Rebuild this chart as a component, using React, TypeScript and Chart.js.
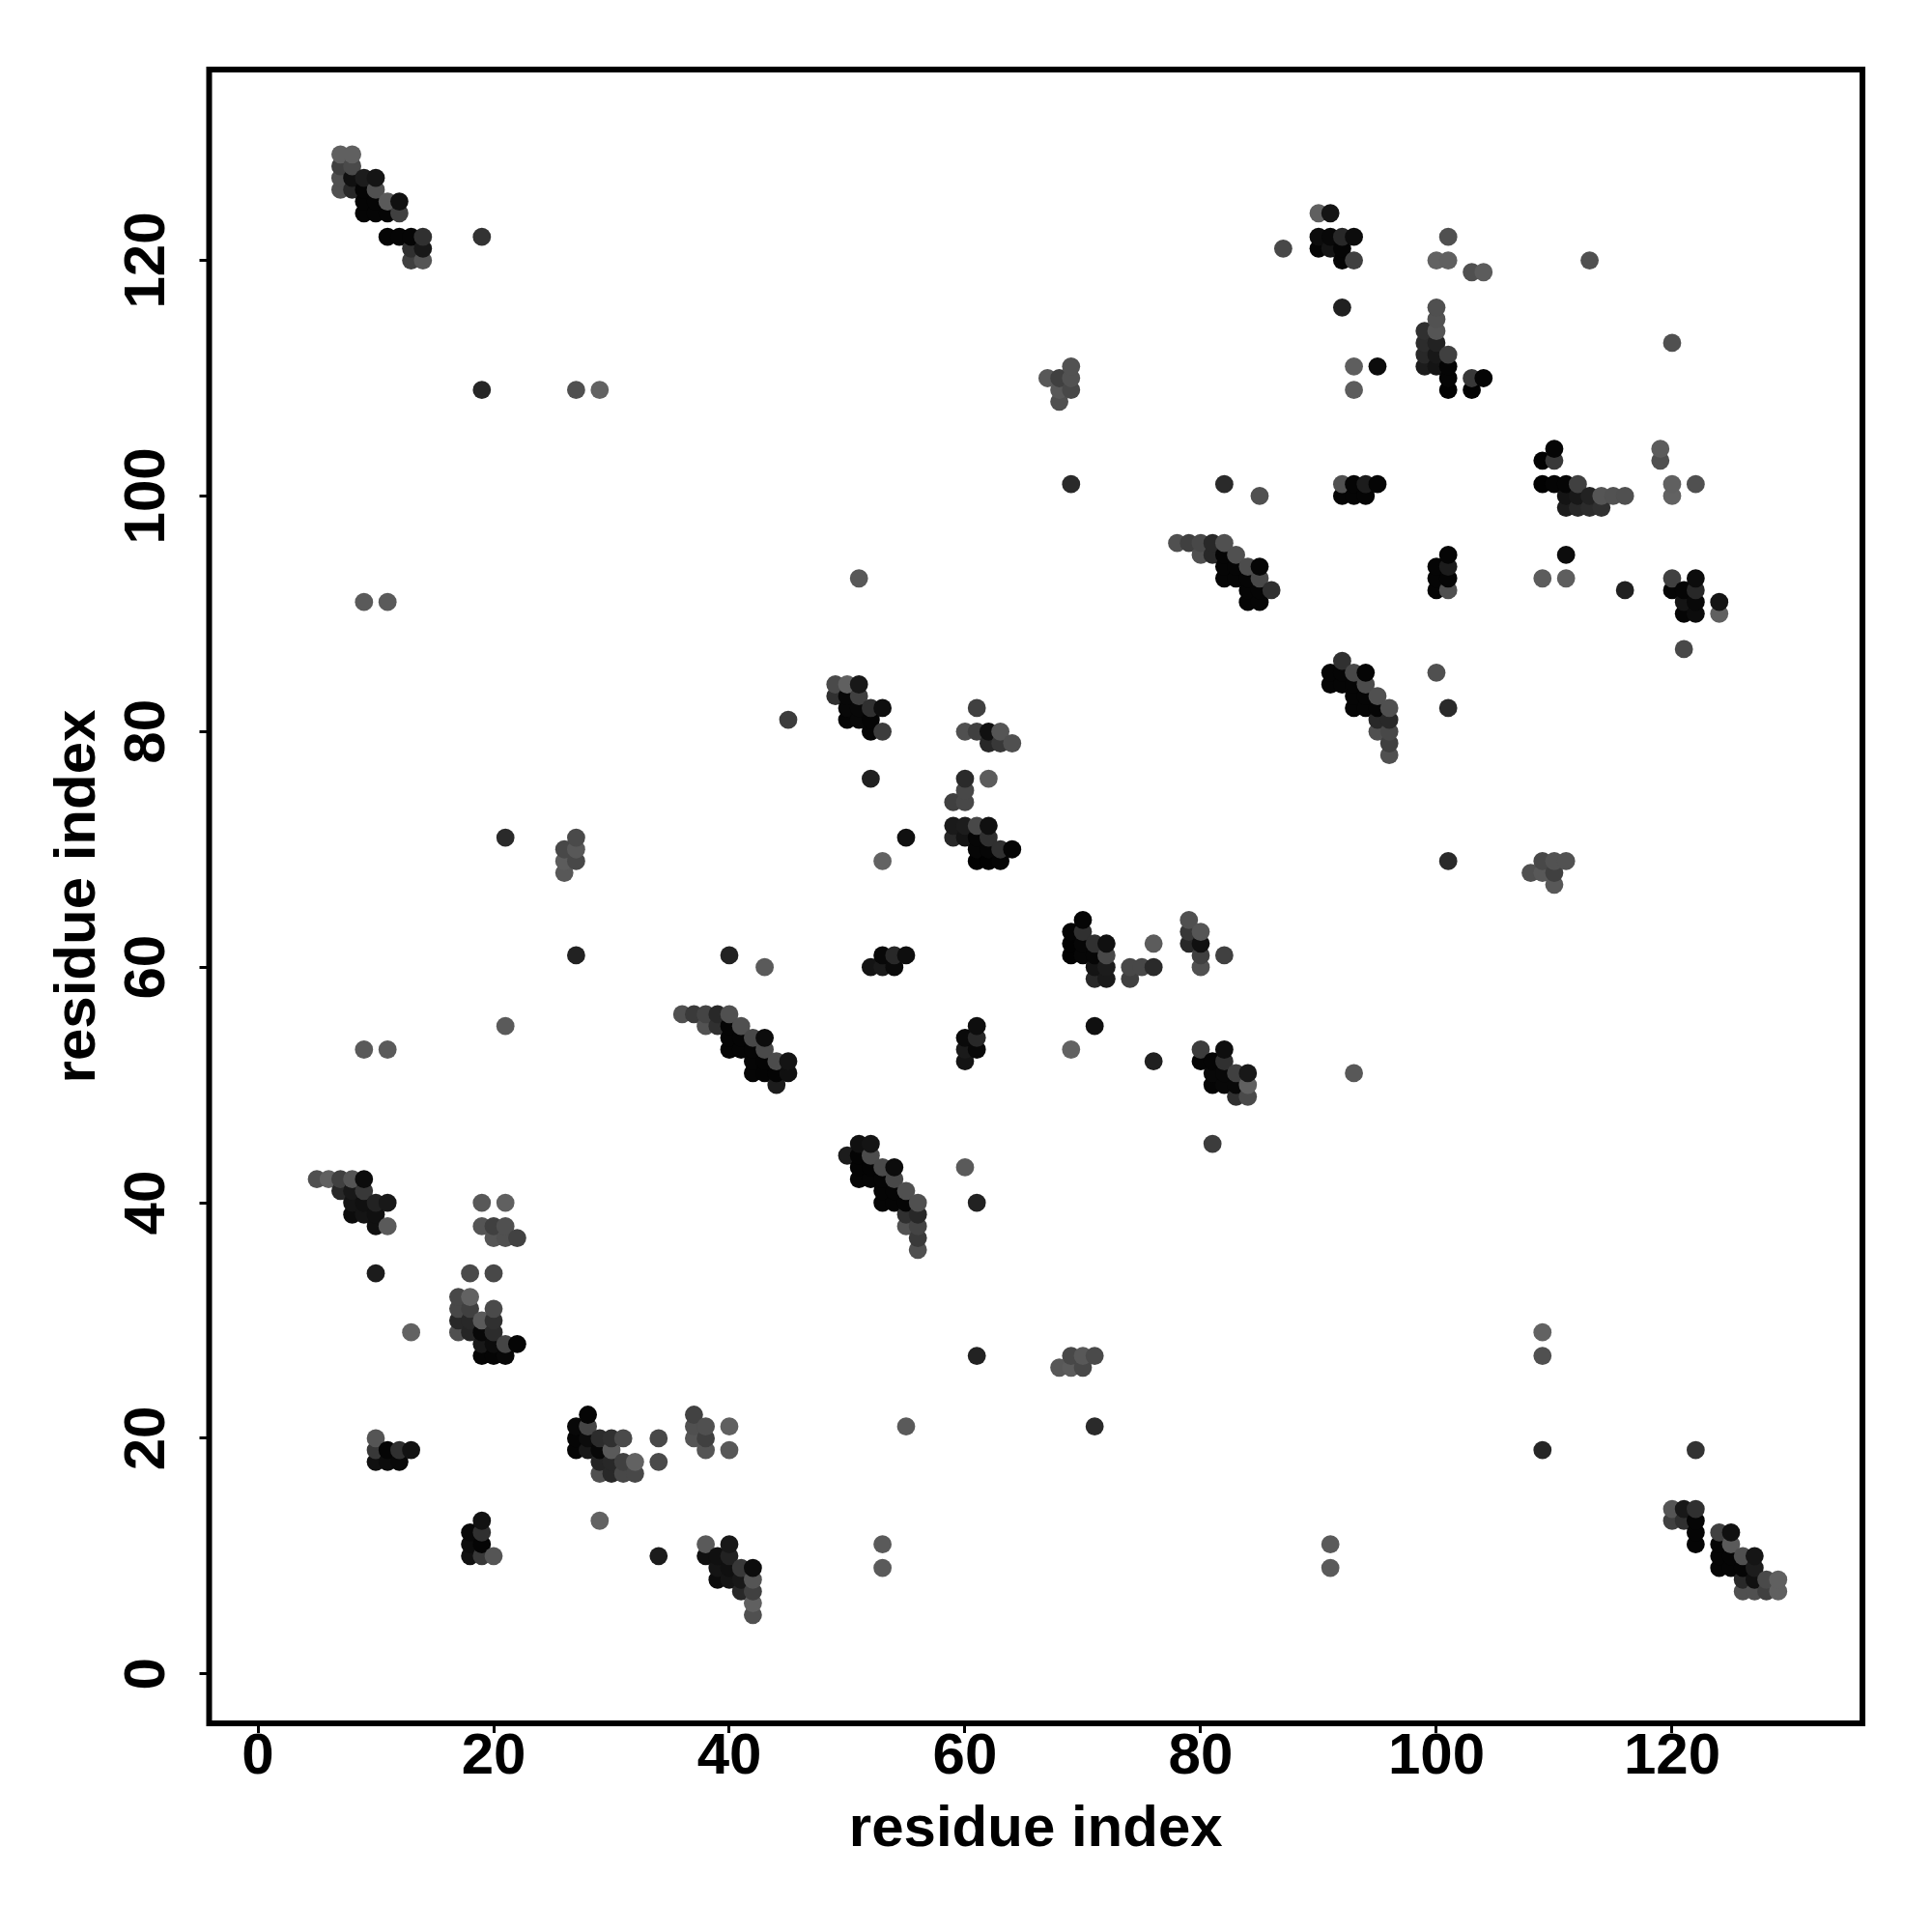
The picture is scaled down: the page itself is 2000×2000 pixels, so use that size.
import { useEffect, useRef } from "react";
import { Chart, registerables } from "chart.js";

Chart.register(...registerables);

type Contact = [number, number, number];

// Each contact is [residue i, residue j, darkness as a grey value]; the map is symmetric.
const contactsA: Contact[] = [
  [7,129,0x60],[8,129,0x60],[7,128,0x40],[8,128,0x4a],[7,127,0x50],[8,127,0x10],[9,127,0x1c],[10,127,0x15],
  [7,126,0x50],[8,126,0x28],[9,126,0x05],[10,126,0x50],[9,125,0x05],[10,125,0x05],[11,125,0x5a],[12,125,0x10],
  [9,124,0x05],[10,124,0x05],[11,124,0x05],[12,124,0x40],[11,122,0x05],[12,122,0x05],[13,122,0x05],[14,122,0x30],
  [13,121,0x30],[14,121,0x18],[13,120,0x40],[14,120,0x55],[19,122,0x33],[19,109,0x26],[27,109,0x50],[29,109,0x62],
];
const contactsB: Contact[] = [
  [9,91,0x5a],[11,91,0x5a],[9,53,0x5a],[11,53,0x5a],[53,11,0x62],[53,9,0x5c],
  [5,42,0x50],[6,42,0x60],[7,42,0x40],[8,42,0x55],[9,42,0x0c],[7,41,0x28],[8,41,0x18],[9,41,0x38],
  [8,40,0x14],[9,40,0x10],[10,40,0x22],[11,40,0x18],[8,39,0x0c],[9,39,0x14],[10,39,0x10],[10,38,0x10],[11,38,0x5a],
  [10,34,0x1c],[13,29,0x62],
];
const contactsC: Contact[] = [
  [19,40,0x58],[21,40,0x60],[19,38,0x55],[20,38,0x40],[21,38,0x50],[20,37,0x55],[21,37,0x50],[22,37,0x42],
  [18,34,0x4a],[20,34,0x48],[17,32,0x48],[18,32,0x62],[17,31,0x48],[18,31,0x40],[20,31,0x4a],
  [17,30,0x28],[18,30,0x28],[19,30,0x5a],[20,30,0x30],[17,29,0x50],[18,29,0x25],[19,29,0x08],[20,29,0x2c],
  [19,28,0x18],[20,28,0x0c],[21,28,0x45],[22,28,0x05],[19,27,0x05],[20,27,0x05],[21,27,0x08],
];
const contactsD: Contact[] = [
  [10,20,0x55],[10,19,0x38],[10,18,0x10],[11,19,0x05],[11,18,0x0c],[12,19,0x30],[12,18,0x08],[13,19,0x12],
  [28,22,0x08],[27,21,0x08],[28,21,0x30],[27,20,0x0c],[28,20,0x10],[29,20,0x2a],[30,20,0x28],[31,20,0x40],
  [27,19,0x05],[28,19,0x10],[29,19,0x05],[30,19,0x4a],[29,18,0x20],[30,18,0x1c],[31,18,0x40],[32,18,0x60],
  [29,17,0x40],[30,17,0x22],[31,17,0x40],[32,17,0x40],[34,20,0x48],[34,18,0x4a],
  [37,22,0x40],[37,21,0x55],[38,21,0x48],[37,20,0x50],[38,20,0x3c],[38,19,0x50],[40,21,0x60],[40,19,0x55],
];
const contactsE: Contact[] = [
  [19,13,0x18],[18,12,0x05],[19,12,0x2c],[18,11,0x10],[19,11,0x05],[18,10,0x0c],[19,10,0x40],[20,10,0x55],
  [29,13,0x62],[34,10,0x1c],[38,11,0x50],[40,11,0x1c],[38,10,0x0c],[39,10,0x08],[40,10,0x28],
  [39,9,0x14],[40,9,0x08],[41,9,0x40],[42,9,0x0c],[39,8,0x05],[40,8,0x08],[41,8,0x08],[42,8,0x50],
  [41,7,0x20],[42,7,0x38],[42,6,0x58],[42,5,0x50],[91,11,0x62],[91,9,0x5c],
];
const contactsF: Contact[] = [
  [21,71,0x2a],[21,55,0x5a],[26,68,0x58],[26,69,0x5c],[26,70,0x48],[27,69,0x48],[27,70,0x58],[27,71,0x4a],
  [27,61,0x22],[40,61,0x22],[43,60,0x5a],[45,81,0x3c],[51,93,0x58],[81,45,0x2c],[93,51,0x58],
];
const contactsG: Contact[] = [
  [51,45,0x10],[52,45,0x14],[50,44,0x1c],[51,44,0x04],[52,44,0x4c],[51,43,0x04],[52,43,0x04],[53,43,0x4a],[54,43,0x0c],
  [51,42,0x05],[52,42,0x05],[53,42,0x05],[54,42,0x48],[53,41,0x05],[54,41,0x05],[55,41,0x50],
  [53,40,0x05],[54,40,0x05],[55,40,0x05],[56,40,0x50],[55,39,0x30],[56,39,0x28],[55,38,0x52],[56,38,0x44],[56,37,0x3a],[56,36,0x50],
];
const contactsH: Contact[] = [
  [36,56,0x55],[37,56,0x40],[38,56,0x48],[39,56,0x2a],[40,56,0x50],[38,55,0x55],[39,55,0x30],[40,55,0x05],[41,55,0x52],
  [40,54,0x05],[41,54,0x05],[42,54,0x4c],[43,54,0x0a],[40,53,0x05],[41,53,0x05],[42,53,0x05],[43,53,0x48],
  [42,52,0x05],[43,52,0x05],[44,52,0x55],[45,52,0x0c],[42,51,0x05],[43,51,0x05],[44,51,0x05],[45,51,0x18],[44,50,0x26],
];
const contactsI: Contact[] = [
  [49,84,0x4a],[50,84,0x60],[51,84,0x18],[49,83,0x30],[50,83,0x08],[51,83,0x40],[50,82,0x08],[51,82,0x08],[52,82,0x30],[53,82,0x0e],
  [50,81,0x05],[51,81,0x08],[52,81,0x05],[52,80,0x05],[53,80,0x3c],[52,76,0x20],[55,71,0x10],[53,69,0x62],
  [53,61,0x08],[54,61,0x28],[55,61,0x0e],[52,60,0x14],[53,60,0x1a],[54,60,0x0a],
];
const contactsJ: Contact[] = [
  [61,82,0x40],[60,80,0x50],[61,80,0x40],[62,80,0x10],[63,80,0x55],[62,79,0x28],[63,79,0x38],[64,79,0x50],
  [60,76,0x2a],[62,76,0x5c],[60,75,0x48],[59,74,0x40],[60,74,0x48],[59,72,0x1a],[60,72,0x1c],[61,72,0x48],[62,72,0x10],
  [59,71,0x28],[60,71,0x14],[61,71,0x06],[62,71,0x30],[61,70,0x06],[62,70,0x06],[63,70,0x30],[64,70,0x05],
  [61,69,0x02],[62,69,0x02],[63,69,0x04],
];
const contactsK: Contact[] = [
  [70,64,0x0a],[69,63,0x05],[70,63,0x2c],[69,62,0x05],[70,62,0x05],[71,62,0x30],[72,62,0x10],[69,61,0x05],[70,61,0x05],[71,61,0x05],[72,61,0x40],
  [71,60,0x18],[72,60,0x20],[71,59,0x30],[72,59,0x1c],[76,62,0x58],[74,60,0x4c],[75,60,0x50],[76,60,0x26],[74,59,0x30],
  [79,64,0x4a],[79,63,0x38],[80,63,0x58],[79,62,0x2c],[80,62,0x12],[80,61,0x38],[82,61,0x38],[80,60,0x50],
  [61,55,0x10],[60,54,0x08],[61,54,0x28],[60,53,0x08],[61,53,0x0c],[60,52,0x14],[71,55,0x14],[69,53,0x62],[76,52,0x20],
  [80,53,0x3c],[82,53,0x12],[80,52,0x08],[81,52,0x02],[82,52,0x30],[81,51,0x08],[82,51,0x08],[83,51,0x3c],[84,51,0x14],
  [81,50,0x05],[82,50,0x08],[83,50,0x08],[84,50,0x5c],[83,49,0x28],[84,49,0x50],
];
const contactsL: Contact[] = [
  [69,111,0x52],[69,110,0x52],[69,109,0x48],[68,110,0x40],[68,109,0x58],[68,108,0x50],[67,110,0x58],[69,101,0x2a],[82,101,0x2a],[85,100,0x50],
  [78,96,0x50],[79,96,0x40],[80,96,0x48],[81,96,0x28],[82,96,0x50],[80,95,0x50],[81,95,0x28],[82,95,0x05],[83,95,0x50],
  [82,94,0x05],[83,94,0x05],[84,94,0x4c],[85,94,0x05],[82,93,0x05],[83,93,0x05],[84,93,0x05],[85,93,0x48],
  [84,92,0x05],[85,92,0x05],[86,92,0x30],[84,91,0x05],[85,91,0x05],
];
const contactsM: Contact[] = [
  [90,124,0x60],[91,124,0x14],[90,122,0x0c],[91,122,0x08],[92,122,0x28],[93,122,0x0c],[90,121,0x05],[91,121,0x14],[92,121,0x05],
  [92,120,0x05],[93,120,0x40],[87,121,0x48],[92,116,0x20],[93,111,0x5e],[95,111,0x0c],[93,109,0x5c],
  [92,101,0x50],[93,101,0x05],[94,101,0x1c],[95,101,0x05],[92,100,0x05],[93,100,0x05],[94,100,0x05],
];
const contactsN: Contact[] = [
  [101,122,0x50],[100,120,0x62],[101,120,0x60],[103,119,0x50],[104,119,0x5c],[113,120,0x50],[100,116,0x50],[100,115,0x52],
  [99,114,0x30],[100,114,0x55],[99,113,0x2c],[100,113,0x22],[99,112,0x28],[100,112,0x18],[101,112,0x40],
  [99,111,0x1c],[100,111,0x14],[101,111,0x05],[101,110,0x05],[103,110,0x38],[104,110,0x05],[101,109,0x02],[103,109,0x02],
];
const contactsO: Contact[] = [
  [110,104,0x0c],[109,103,0x05],[110,103,0x2a],[109,101,0x05],[110,101,0x08],[111,101,0x08],[112,101,0x40],
  [111,100,0x14],[112,100,0x18],[113,100,0x20],[114,100,0x45],[115,100,0x4a],[116,100,0x40],
  [111,99,0x22],[112,99,0x28],[113,99,0x2c],[114,99,0x2a],[119,104,0x60],[119,103,0x50],[120,101,0x5e],[122,101,0x4a],[120,100,0x5e],
  [111,95,0x10],[109,93,0x62],[111,93,0x60],[116,92,0x20],[120,93,0x40],[122,93,0x14],[120,92,0x10],[121,92,0x05],[122,92,0x28],
  [121,91,0x08],[122,91,0x08],[124,91,0x10],[121,90,0x05],[122,90,0x08],[124,90,0x62],[121,87,0x40],[120,113,0x58],
];
const contactsP: Contact[] = [
  [92,86,0x30],[91,85,0x05],[92,85,0x05],[93,85,0x48],[94,85,0x02],[91,84,0x05],[92,84,0x05],[93,84,0x05],[94,84,0x50],
  [93,83,0x05],[94,83,0x05],[95,83,0x50],[93,82,0x05],[94,82,0x05],[95,82,0x05],[96,82,0x50],[95,81,0x28],[96,81,0x20],
  [95,80,0x50],[96,80,0x50],[96,79,0x40],[96,78,0x52],[100,85,0x58],[101,82,0x2a],[101,69,0x2a],
  [101,95,0x0a],[100,94,0x05],[101,94,0x1c],[100,93,0x08],[101,93,0x05],[100,92,0x05],[101,92,0x5a],
];
const contactsQ: Contact[] = [
  [120,14,0x52],[121,14,0x1c],[122,14,0x38],[120,13,0x40],[121,13,0x40],[122,13,0x05],[122,12,0x05],[124,12,0x48],[125,12,0x14],
  [122,11,0x02],[124,11,0x05],[125,11,0x52],[124,10,0x05],[125,10,0x05],[126,10,0x58],[127,10,0x10],
  [124,9,0x05],[125,9,0x05],[126,9,0x05],[127,9,0x20],[126,8,0x28],[127,8,0x10],[128,8,0x50],[129,8,0x5c],
  [126,7,0x50],[127,7,0x50],[128,7,0x40],[129,7,0x55],
];
const contactsR: Contact[] = [
  [109,29,0x60],[109,27,0x58],[109,19,0x26],[61,27,0x22],[71,21,0x2a],[122,19,0x33],
];

const allContacts: Contact[] = [
  ...contactsA, ...contactsB, ...contactsC, ...contactsD, ...contactsE, ...contactsF,
  ...contactsG, ...contactsH, ...contactsI, ...contactsJ, ...contactsK, ...contactsL,
  ...contactsM, ...contactsN, ...contactsO, ...contactsP, ...contactsQ, ...contactsR,
];

const xTicks = [0, 20, 40, 60, 80, 100, 120];
const yTicks = [0, 20, 40, 60, 80, 100, 120];
const axisTitle = "residue index";

function buildPoints() {
  const seen = new Map<string, Contact>();
  for (const [a, b, g] of allContacts) {
    const lo = Math.min(a, b);
    const hi = Math.max(a, b);
    if (!seen.has(`${lo}-${hi}`)) seen.set(`${lo}-${hi}`, [lo, hi, g]);
  }
  const pts: Contact[] = [];
  for (const [lo, hi, g] of seen.values()) {
    pts.push([lo, hi, g], [hi, lo, g]);
  }
  // later points sit on top: drawn by x, then by y
  pts.sort((p, q) => p[0] - q[0] || p[1] - q[1]);
  return pts;
}

const frame = {
  id: "frame",
  afterDraw(chart: Chart) {
    const { ctx, chartArea: a } = chart;
    ctx.save();
    ctx.strokeStyle = "#000";
    ctx.lineWidth = 6;
    ctx.strokeRect(a.left, a.top, a.right - a.left, a.bottom - a.top);
    ctx.restore();
  },
};

export default function App() {
  const ref = useRef<HTMLCanvasElement | null>(null);
  useEffect(() => {
    document.body.style.margin = "0";
    const pts = buildPoints();
    const tickFont = { family: "'Liberation Sans'", size: 60, weight: "bold" as const, lineHeight: 1 };
    const titleFont = { family: "'Liberation Sans'", size: 60, weight: "bold" as const };
    const tickGrid = { drawOnChartArea: false, drawTicks: true, tickLength: 10, tickWidth: 3, tickColor: "#000" };
    const chart = new Chart(ref.current!, {
      type: "scatter",
      data: {
        datasets: [
          {
            data: pts.map(([x, y]) => ({ x, y })),
            pointRadius: 9.4,
            pointHoverRadius: 9.4,
            borderWidth: 0,
            pointBorderWidth: 0,
            pointBackgroundColor: pts.map(([, , g]) => `rgb(${g},${g},${g})`),
          },
        ],
      },
      options: {
        animation: false,
        responsive: false,
        layout: { padding: { top: 72, right: 72, left: 45, bottom: 70 } },
        plugins: { legend: { display: false }, tooltip: { enabled: false } },
        scales: {
          x: {
            type: "linear",
            min: -4.14,
            max: 136.15,
            afterFit: (s: any) => { s.height = 146; },
            afterBuildTicks: (s: any) => { s.ticks = xTicks.map((value) => ({ value })); },
            grid: tickGrid,
            border: { display: false },
            ticks: { color: "#000", font: tickFont, maxRotation: 0, minRotation: 0, padding: -5 },
            title: { display: true, text: axisTitle, color: "#000", font: titleFont, padding: { top: 0, bottom: 0 } },
          },
          y: {
            type: "linear",
            min: -4.2,
            max: 136.2,
            afterFit: (s: any) => { s.width = 171.5; },
            afterBuildTicks: (s: any) => { s.ticks = yTicks.map((value) => ({ value })); },
            grid: tickGrid,
            border: { display: false },
            ticks: { color: "#000", font: tickFont, maxRotation: 90, minRotation: 90, padding: 3, crossAlign: "center" },
            title: { display: true, text: axisTitle, color: "#000", font: titleFont, padding: { top: 0, bottom: 0 } },
          },
        },
      },
      plugins: [frame],
    });
    return () => chart.destroy();
  }, []);
  return <canvas ref={ref} width={2000} height={2000} style={{ display: "block" }} />;
}
